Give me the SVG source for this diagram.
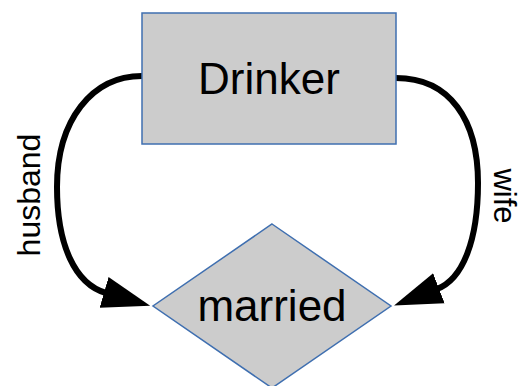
<svg xmlns="http://www.w3.org/2000/svg" width="522" height="386" viewBox="0 0 522 386">
<style>
.node{fill:#cccccc;stroke:#3f6fb0;stroke-width:1.5}
.lbl{font-family:"Liberation Sans",Arial,sans-serif;fill:#000;text-anchor:middle}
.edge{fill:none;stroke:#000;stroke-width:6}
</style>
<defs>
<marker id="arr" markerUnits="userSpaceOnUse" markerWidth="50" markerHeight="34" refX="2" refY="16" orient="auto" viewBox="0 0 50 32">
<path d="M0,0 L48,16 L0,32 Z" fill="#000"/>
</marker>
</defs>
<g id="connectors">
<path class="edge" d="M142,76 C92,76 57,120 57,187 C57,245 75,284 106,293" marker-end="url(#arr)"/>
<path class="edge" d="M396,78 C450,78 478,120 478,183 C478,240 463,279 437,289" marker-end="url(#arr)"/>
<text class="lbl" font-size="32" transform="translate(40,195) rotate(-90)">husband</text>
<text class="lbl" font-size="31" transform="translate(494,196) rotate(90)">wife</text>
</g>
<g id="drinker">
<rect class="node" x="142" y="13" width="254" height="131"/>
<text class="lbl" x="269" y="94" font-size="44">Drinker</text>
</g>
<g id="married">
<polygon class="node" points="272,224 391,306 272,388 153,306"/>
<text class="lbl" x="272" y="321" font-size="44">married</text>
</g>
</svg>
